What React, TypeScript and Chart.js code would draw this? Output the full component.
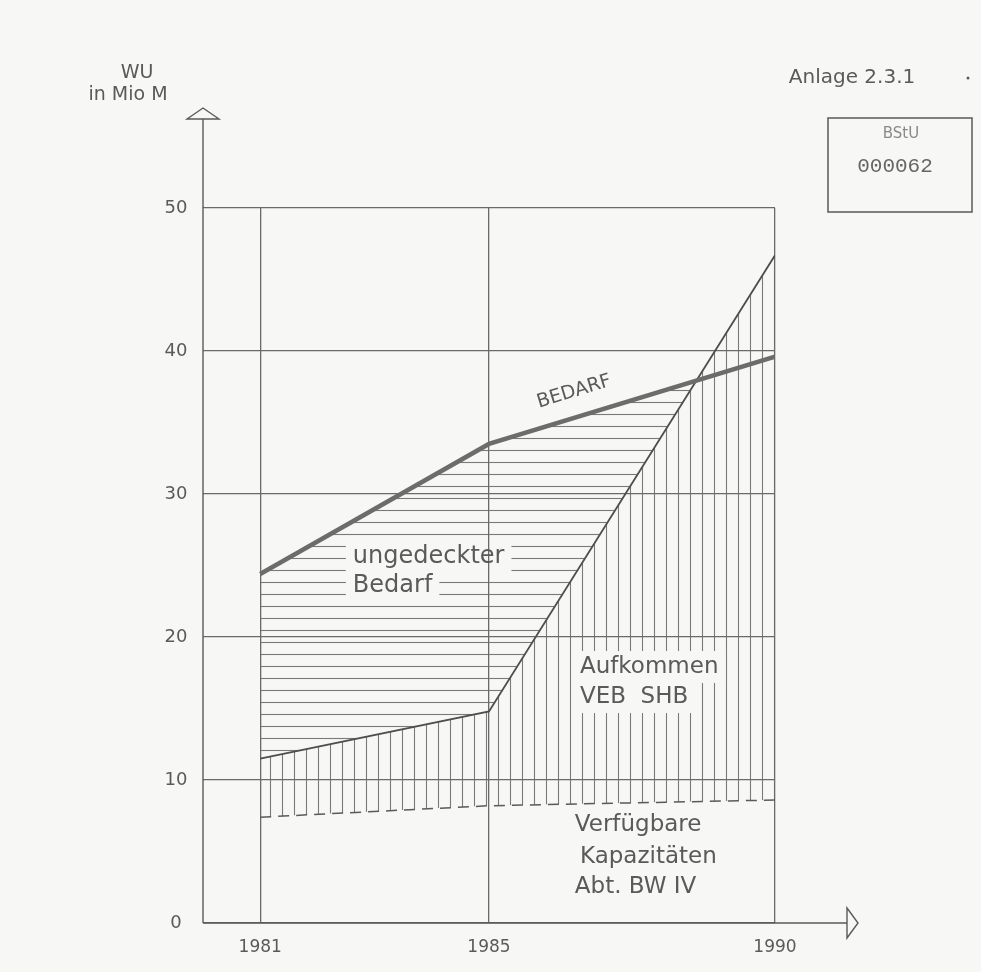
import React, { useEffect, useRef } from "react";
import { Chart, registerables } from "chart.js";

Chart.register(...registerables);

// ---- data ----
const years = [1981, 1985, 1990];
const bedarf = [24.4, 33.5, 39.6];
const aufkommen = [11.5, 14.8, 46.7];
const kapazitaeten = [7.4, 8.2, 8.6];
const xTicks = [1981, 1985, 1990];
const xTickLabels = ["1981", "1985", "1990"];
const yTicks = [0, 10, 20, 30, 40, 50];
const yTickLabels = ["0", "10", "20", "30", "40", "50"];

const INK = "#5a5a5a";
const PAPER = "#f7f7f5";
const FONT = '"DejaVu Sans", sans-serif';

function makePattern(ctx: CanvasRenderingContext2D, vertical: boolean) {
  const c = document.createElement("canvas");
  const s = 12;
  c.width = s;
  c.height = s;
  const g = c.getContext("2d") as CanvasRenderingContext2D;
  g.strokeStyle = "rgba(90,90,90,0.8)";
  g.lineWidth = 1.1;
  g.beginPath();
  if (vertical) {
    g.moveTo(6.5, 0);
    g.lineTo(6.5, s);
  } else {
    g.moveTo(0, 6.5);
    g.lineTo(s, 6.5);
  }
  g.stroke();
  return ctx.createPattern(c, "repeat") as CanvasPattern;
}

type Label = { text: string; x: number; y: number; size: number; box?: boolean };
const labels: Label[] = [
  { text: "ungedeckter", x: 1982.62, y: 25.6, size: 24, box: true },
  { text: "Bedarf", x: 1982.62, y: 23.55, size: 24, box: true },
  { text: "Aufkommen", x: 1986.59, y: 17.9, size: 23, box: true },
  { text: "VEB  SHB", x: 1986.59, y: 15.8, size: 23, box: true },
  { text: "Verfügbare", x: 1986.5, y: 6.85, size: 23 },
  { text: "Kapazitäten", x: 1986.59, y: 4.6, size: 23 },
  { text: "Abt. BW IV", x: 1986.5, y: 2.55, size: 23 },
];

const decor = {
  id: "decor",
  beforeDraw(chart: any) {
    const { ctx, scales } = chart;
    const xs = scales.x;
    const ys = scales.y;
    ctx.save();
    ctx.fillStyle = PAPER;
    for (const l of labels) {
      if (!l.box) continue;
      ctx.font = `${l.size}px ${FONT}`;
      const w = ctx.measureText(l.text).width;
      const px = xs.getPixelForValue(l.x);
      const py = ys.getPixelForValue(l.y);
      ctx.fillRect(px - 7, py - 16, w + 14, 32);
    }
    ctx.restore();
  },
  afterDraw(chart: any) {
    const { ctx, scales } = chart;
    const xs = scales.x;
    const ys = scales.y;
    const x0 = xs.getPixelForValue(1980);
    const y0 = ys.getPixelForValue(0);
    ctx.save();
    ctx.strokeStyle = INK;
    ctx.lineWidth = 1.4;
    // y axis with arrow
    const yTop = 119;
    ctx.beginPath();
    ctx.moveTo(x0, y0);
    ctx.lineTo(x0, yTop);
    ctx.stroke();
    ctx.beginPath();
    ctx.moveTo(x0 - 16, yTop);
    ctx.lineTo(x0, yTop - 11);
    ctx.lineTo(x0 + 16, yTop);
    ctx.closePath();
    ctx.fillStyle = PAPER;
    ctx.fill();
    ctx.stroke();
    // x axis with arrow
    const xEnd = 847;
    ctx.beginPath();
    ctx.moveTo(x0, y0);
    ctx.lineTo(xEnd, y0);
    ctx.stroke();
    ctx.beginPath();
    ctx.moveTo(xEnd, y0 - 15);
    ctx.lineTo(xEnd + 11, y0);
    ctx.lineTo(xEnd, y0 + 15);
    ctx.closePath();
    ctx.fill();
    ctx.stroke();

    // tick labels
    ctx.fillStyle = INK;
    ctx.textBaseline = "middle";
    ctx.textAlign = "center";
    ctx.font = `18px ${FONT}`;
    yTicks.forEach((v, i) => {
      ctx.fillText(yTickLabels[i], x0 - 27, ys.getPixelForValue(v));
    });
    ctx.font = `17px ${FONT}`;
    xTicks.forEach((v, i) => {
      ctx.fillText(xTickLabels[i], xs.getPixelForValue(v), y0 + 25);
    });

    // in-chart labels
    ctx.textAlign = "left";
    for (const l of labels) {
      ctx.font = `${l.size}px ${FONT}`;
      ctx.fillText(l.text, xs.getPixelForValue(l.x), ys.getPixelForValue(l.y));
    }
    // BEDARF along the line
    ctx.save();
    ctx.translate(xs.getPixelForValue(1986.49), ys.getPixelForValue(37.15));
    ctx.rotate((-17 * Math.PI) / 180);
    ctx.textAlign = "center";
    ctx.font = `19px ${FONT}`;
    ctx.fillText("BEDARF", 0, 0);
    ctx.restore();

    // axis title
    ctx.textAlign = "center";
    ctx.font = `19px ${FONT}`;
    ctx.fillText("WU", 137, 73);
    ctx.fillText("in Mio M", 128, 95);

    // Anlage
    ctx.font = `20px ${FONT}`;
    ctx.fillText("Anlage 2.3.1", 852, 78);
    ctx.beginPath();
    ctx.arc(968, 78, 1.5, 0, Math.PI * 2);
    ctx.fill();

    // stamp
    ctx.lineWidth = 1.5;
    ctx.strokeRect(828, 118, 144, 94);
    ctx.fillStyle = "#8a8a8a";
    ctx.font = `15px ${FONT}`;
    ctx.fillText("BStU", 901, 134);
    ctx.fillStyle = "#666";
    ctx.font = `21px "Liberation Mono", monospace`;
    ctx.fillText("000062", 895, 166);
    ctx.restore();
  },
};

export default function App() {
  const ref = useRef<HTMLCanvasElement | null>(null);
  useEffect(() => {
    document.body.style.margin = "0";
    document.body.style.background = PAPER;
    const canvas = ref.current as HTMLCanvasElement;
    const ctx = canvas.getContext("2d") as CanvasRenderingContext2D;
    const vPat = makePattern(ctx, true);
    const hPat = makePattern(ctx, false);
    const toPts = (arr: number[]) => years.map((x, i) => ({ x, y: arr[i] }));
    const chart = new Chart(ctx, {
      type: "line",
      data: {
        datasets: [
          {
            label: "Bedarf",
            data: toPts(bedarf),
            borderColor: "#6c6c6c",
            borderWidth: 4.5,
            pointRadius: 0,
            fill: { target: 1, above: hPat, below: "rgba(0,0,0,0)" },
          },
          {
            label: "Aufkommen VEB SHB",
            data: toPts(aufkommen),
            borderColor: "#4e4e4e",
            borderWidth: 1.8,
            pointRadius: 0,
            fill: { target: 2, above: vPat, below: "rgba(0,0,0,0)" },
          },
          {
            label: "Verfügbare Kapazitäten Abt. BW IV",
            data: toPts(kapazitaeten),
            borderColor: INK,
            borderWidth: 1.5,
            borderDash: [11, 7],
            pointRadius: 0,
            fill: false,
          },
        ],
      },
      options: {
        responsive: false,
        animation: false,
        devicePixelRatio: 1,
        layout: { padding: { left: 203, right: 206, top: 208, bottom: 49 } },
        plugins: {
          legend: { display: false },
          tooltip: { enabled: false },
          filler: { drawTime: "beforeDraw" },
        },
        scales: {
          x: {
            type: "linear",
            min: 1980,
            max: 1990,
            afterBuildTicks: (s: any) => {
              s.ticks = xTicks.map((v) => ({ value: v }));
            },
            afterFit: (s: any) => {
              s.height = 0;
            },
            ticks: { display: false },
            grid: { color: "#6a6a6a", lineWidth: 1.3, drawTicks: false },
            border: { display: false },
          },
          y: {
            min: 0,
            max: 50,
            afterBuildTicks: (s: any) => {
              s.ticks = yTicks.map((v) => ({ value: v }));
            },
            afterFit: (s: any) => {
              s.width = 0;
            },
            ticks: { display: false },
            grid: { color: "#6a6a6a", lineWidth: 1.3, drawTicks: false },
            border: { display: false },
          },
        },
      } as any,
      plugins: [decor],
    });
    return () => chart.destroy();
  }, []);
  return (
    <div style={{ width: 981, height: 972, background: PAPER }}>
      <canvas ref={ref} width={981} height={972} style={{ display: "block" }} />
    </div>
  );
}
